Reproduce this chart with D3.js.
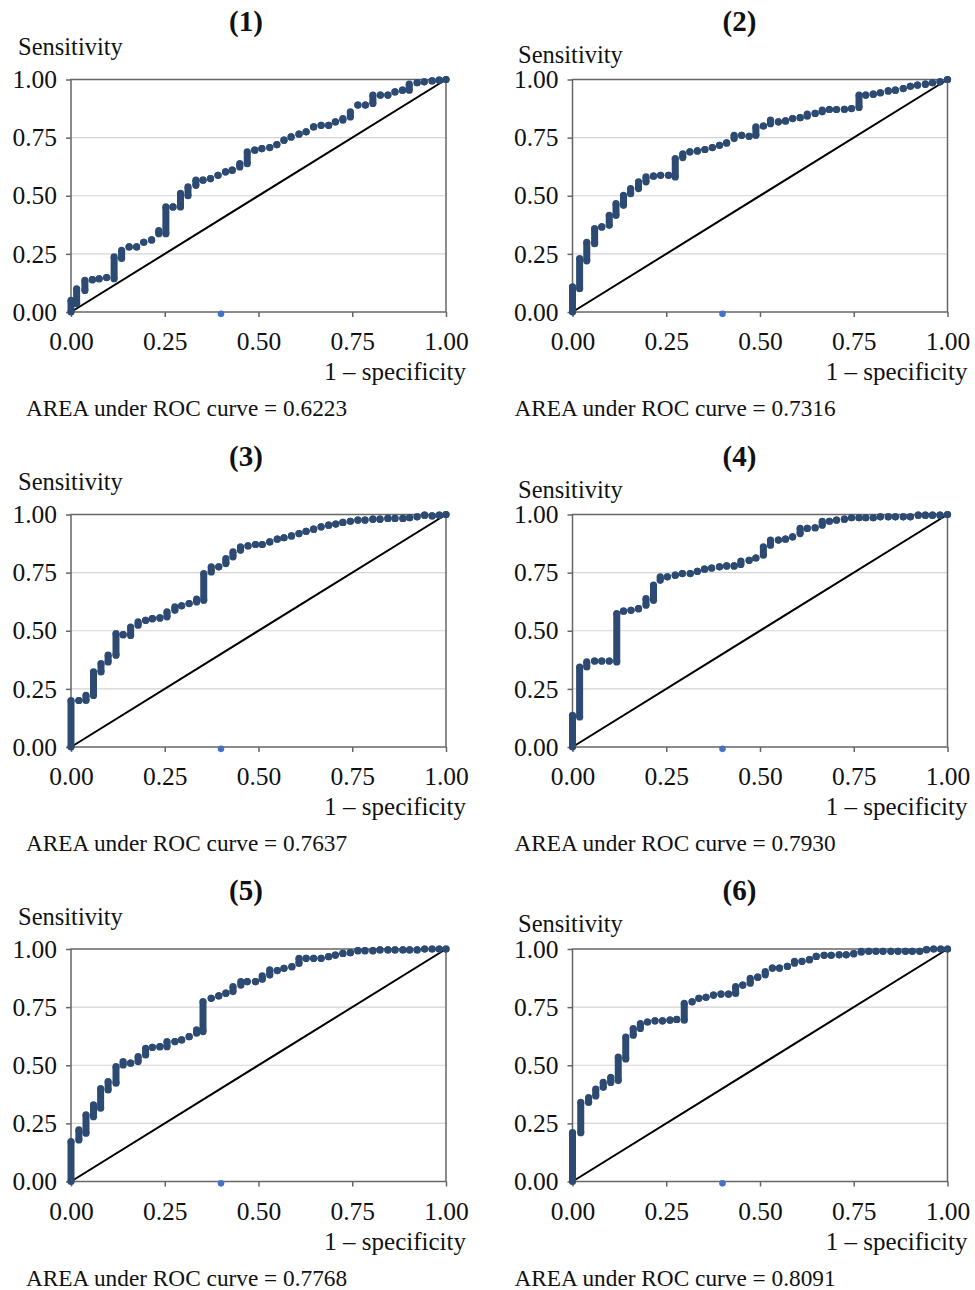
<!DOCTYPE html>
<html>
<head>
<meta charset="utf-8">
<script src="https://cdn.jsdelivr.net/npm/d3@7"></script>
<style>
  body { margin: 0; background: #fff; }
  svg text { font-family: "Liberation Serif", "DejaVu Serif", serif; fill: #111; }
</style>
</head>
<body>
<div id="vis"></div>
<script>
// ROC points: [1 - specificity, sensitivity low, sensitivity high]
// (a vertical run of tied points is stored as one row)
var roc1 = [
  [0,0,0.05],[0.015,0.036,0.10],[0.037,0.093,0.136],[0.057,0.139,0.139],[0.075,0.143,0.143],
  [0.095,0.148,0.148],[0.115,0.143,0.237],[0.135,0.23,0.265],[0.155,0.28,0.28],[0.175,0.28,0.28],
  [0.194,0.30,0.30],[0.215,0.31,0.31],[0.234,0.337,0.35],[0.253,0.337,0.452],[0.272,0.452,0.452],
  [0.292,0.452,0.51],[0.312,0.50,0.538],[0.333,0.545,0.567],[0.352,0.567,0.567],[0.372,0.574,0.574],
  [0.392,0.588,0.588],[0.412,0.603,0.603],[0.43,0.61,0.61],[0.45,0.624,0.638],[0.47,0.638,0.689],
  [0.49,0.696,0.696],[0.509,0.703,0.703],[0.53,0.707,0.707],[0.549,0.72,0.72],[0.568,0.739,0.739],
  [0.587,0.753,0.753],[0.608,0.765,0.765],[0.627,0.775,0.775],[0.647,0.796,0.796],[0.667,0.803,0.803],
  [0.687,0.803,0.803],[0.705,0.818,0.818],[0.725,0.825,0.832],[0.745,0.839,0.861],[0.765,0.89,0.89],
  [0.785,0.89,0.89],[0.805,0.897,0.933],[0.825,0.933,0.933],[0.845,0.933,0.933],[0.864,0.947,0.947],
  [0.884,0.954,0.954],[0.902,0.954,0.98],[0.923,0.986,0.986],[0.942,0.99,0.99],[0.963,0.994,0.994],
  [0.982,0.997,0.997],[1,1,1]
];
var roc2 = [
  [0,0,0.108],[0.019,0.10,0.23],[0.038,0.22,0.30],[0.059,0.294,0.359],[0.078,0.366,0.366],
  [0.098,0.373,0.416],[0.116,0.416,0.466],[0.136,0.459,0.502],[0.155,0.509,0.531],[0.176,0.531,0.56],
  [0.196,0.56,0.581],[0.216,0.584,0.584],[0.235,0.588,0.588],[0.256,0.588,0.588],[0.274,0.581,0.66],
  [0.294,0.664,0.68],[0.313,0.689,0.689],[0.333,0.693,0.693],[0.353,0.699,0.699],[0.373,0.707,0.707],
  [0.392,0.717,0.717],[0.411,0.727,0.727],[0.431,0.746,0.76],[0.451,0.76,0.76],[0.471,0.756,0.756],
  [0.489,0.76,0.796],[0.509,0.80,0.80],[0.528,0.81,0.825],[0.549,0.818,0.818],[0.568,0.822,0.822],
  [0.587,0.832,0.832],[0.607,0.836,0.836],[0.626,0.842,0.851],[0.647,0.854,0.854],[0.666,0.861,0.868],
  [0.685,0.871,0.871],[0.704,0.871,0.871],[0.725,0.872,0.872],[0.744,0.875,0.875],[0.764,0.88,0.933],
  [0.782,0.933,0.933],[0.802,0.937,0.937],[0.821,0.943,0.943],[0.842,0.951,0.951],[0.861,0.954,0.954],
  [0.882,0.961,0.961],[0.901,0.971,0.971],[0.92,0.976,0.976],[0.941,0.98,0.98],[0.96,0.986,0.986],
  [0.98,0.99,0.99],[1,1,1]
];
var roc3 = [
  [0,0,0.20],[0.021,0.20,0.20],[0.04,0.20,0.222],[0.06,0.222,0.323],[0.08,0.323,0.359],
  [0.099,0.366,0.395],[0.12,0.395,0.488],[0.139,0.483,0.483],[0.159,0.48,0.516],[0.179,0.524,0.538],
  [0.199,0.545,0.545],[0.217,0.552,0.552],[0.237,0.555,0.555],[0.256,0.56,0.581],[0.277,0.588,0.603],
  [0.295,0.607,0.607],[0.315,0.617,0.617],[0.335,0.624,0.636],[0.354,0.631,0.746],[0.374,0.753,0.775],
  [0.394,0.775,0.775],[0.413,0.789,0.81],[0.432,0.818,0.839],[0.452,0.846,0.861],[0.472,0.865,0.865],
  [0.492,0.871,0.871],[0.51,0.871,0.871],[0.53,0.882,0.882],[0.55,0.894,0.894],[0.568,0.90,0.90],
  [0.588,0.908,0.908],[0.608,0.918,0.918],[0.627,0.928,0.928],[0.647,0.937,0.937],[0.667,0.947,0.947],
  [0.687,0.954,0.954],[0.706,0.959,0.959],[0.725,0.966,0.966],[0.745,0.971,0.971],[0.765,0.976,0.976],
  [0.784,0.976,0.976],[0.805,0.98,0.98],[0.824,0.98,0.98],[0.845,0.983,0.983],[0.864,0.983,0.983],
  [0.885,0.983,0.983],[0.903,0.986,0.986],[0.923,0.99,0.99],[0.943,0.997,0.997],[0.963,0.994,0.994],
  [0.982,0.997,0.997],[1,1,1]
];
var roc4 = [
  [0,0,0.136],[0.019,0.129,0.344],[0.038,0.344,0.366],[0.059,0.37,0.37],[0.078,0.37,0.37],
  [0.098,0.37,0.37],[0.118,0.366,0.574],[0.136,0.584,0.584],[0.156,0.588,0.588],[0.176,0.595,0.595],
  [0.196,0.61,0.638],[0.216,0.631,0.696],[0.234,0.717,0.732],[0.253,0.732,0.732],[0.274,0.739,0.739],
  [0.293,0.746,0.746],[0.314,0.746,0.746],[0.333,0.756,0.756],[0.352,0.765,0.765],[0.371,0.77,0.77],
  [0.392,0.775,0.775],[0.411,0.779,0.779],[0.431,0.779,0.779],[0.449,0.785,0.80],[0.471,0.803,0.803],
  [0.489,0.813,0.813],[0.509,0.825,0.861],[0.528,0.868,0.89],[0.549,0.89,0.89],[0.568,0.894,0.894],
  [0.587,0.904,0.904],[0.607,0.918,0.94],[0.626,0.94,0.94],[0.647,0.943,0.943],[0.666,0.954,0.971],
  [0.685,0.971,0.971],[0.704,0.976,0.976],[0.725,0.98,0.98],[0.744,0.986,0.986],[0.764,0.986,0.986],
  [0.782,0.986,0.986],[0.802,0.986,0.986],[0.821,0.99,0.99],[0.842,0.99,0.99],[0.861,0.99,0.99],
  [0.882,0.99,0.99],[0.901,0.99,0.99],[0.922,0.997,0.997],[0.941,0.997,0.997],[0.96,0.997,0.997],
  [0.98,0.997,0.997],[1,1,1]
];
var roc5 = [
  [0,0,0.172],[0.021,0.179,0.222],[0.04,0.208,0.287],[0.06,0.279,0.33],[0.079,0.315,0.40],
  [0.099,0.394,0.43],[0.12,0.423,0.494],[0.139,0.501,0.516],[0.159,0.509,0.509],[0.179,0.516,0.537],
  [0.199,0.544,0.573],[0.217,0.577,0.577],[0.237,0.58,0.58],[0.256,0.58,0.602],[0.277,0.602,0.602],
  [0.295,0.609,0.609],[0.315,0.623,0.623],[0.335,0.638,0.652],[0.352,0.645,0.774],[0.374,0.788,0.788],
  [0.394,0.798,0.798],[0.413,0.81,0.81],[0.432,0.817,0.838],[0.453,0.845,0.86],[0.47,0.86,0.86],
  [0.492,0.86,0.86],[0.51,0.87,0.884],[0.53,0.888,0.91],[0.55,0.907,0.907],[0.568,0.917,0.917],
  [0.589,0.924,0.924],[0.608,0.938,0.96],[0.627,0.96,0.96],[0.647,0.96,0.96],[0.667,0.96,0.96],
  [0.687,0.967,0.967],[0.705,0.974,0.974],[0.725,0.981,0.981],[0.745,0.984,0.984],[0.765,0.993,0.993],
  [0.784,0.993,0.993],[0.805,0.993,0.993],[0.824,0.996,0.996],[0.845,0.996,0.996],[0.864,0.996,0.996],
  [0.885,0.996,0.996],[0.903,0.996,0.996],[0.923,0.996,0.996],[0.943,1,1],[0.963,1,1],
  [0.982,1,1],[1,1,1]
];
var roc6 = [
  [0,0,0.21],[0.022,0.21,0.34],[0.043,0.34,0.361],[0.062,0.368,0.397],[0.082,0.405,0.426],
  [0.102,0.426,0.448],[0.122,0.434,0.535],[0.142,0.527,0.621],[0.162,0.629,0.658],[0.181,0.658,0.679],
  [0.20,0.686,0.686],[0.22,0.691,0.691],[0.24,0.691,0.691],[0.26,0.694,0.694],[0.278,0.697,0.697],
  [0.298,0.694,0.766],[0.319,0.773,0.773],[0.337,0.788,0.788],[0.356,0.792,0.792],[0.376,0.802,0.802],
  [0.396,0.806,0.806],[0.416,0.806,0.806],[0.435,0.809,0.838],[0.454,0.845,0.845],[0.474,0.853,0.874],
  [0.494,0.879,0.879],[0.514,0.889,0.903],[0.533,0.918,0.918],[0.552,0.918,0.918],[0.573,0.925,0.925],
  [0.592,0.939,0.947],[0.612,0.947,0.947],[0.632,0.954,0.954],[0.65,0.968,0.968],[0.671,0.973,0.973],
  [0.69,0.973,0.973],[0.711,0.975,0.975],[0.73,0.975,0.975],[0.75,0.98,0.98],[0.77,0.986,0.99],
  [0.79,0.99,0.99],[0.809,0.99,0.99],[0.828,0.99,0.99],[0.849,0.99,0.99],[0.868,0.99,0.99],
  [0.888,0.99,0.99],[0.906,0.99,0.99],[0.926,0.99,0.99],[0.944,0.997,0.997],[0.963,1,1],
  [0.982,1,1],[1,1,1]
];

var curves = [roc1, roc2, roc3, roc4, roc5, roc6];
var titles = ['(1)', '(2)', '(3)', '(4)', '(5)', '(6)'];
var areas = ['0.6223', '0.7316', '0.7637', '0.7930', '0.7768', '0.8091'];
var ticks = [0, 0.25, 0.5, 0.75, 1];
var strayPoint = [0.40, -0.008]; // lone marker sitting on the x axis

var width = 975, height = 1290;
var plotW = 375, plotH = 232.5;
var colLeft = [71, 572.5];
var rowTop = [79.5, 514.5, 949];
// per-column label offsets
var titleDx = [175, 167];
var sensDx = [-53, -54.5], sensDy = [-24.5, -17];
var areaDx = [-45, -58];

var svg = d3.select('#vis').append('svg')
  .attr('width', width)
  .attr('height', height);

var x = d3.scaleLinear().domain([0, 1]).range([0, plotW]);
var y = d3.scaleLinear().domain([0, 1]).range([plotH, 0]);
var fmt = d3.format('.2f');

curves.forEach(function(data, i) {
  var col = i % 2, row = Math.floor(i / 2);
  var g = svg.append('g')
    .attr('transform', 'translate(' + colLeft[col] + ',' + rowTop[row] + ')');

  // title
  g.append('text')
    .attr('x', titleDx[col])
    .attr('y', -49)
    .attr('text-anchor', 'middle')
    .style('font-size', '29px')
    .style('font-weight', 'bold')
    .text(titles[i]);

  // gridlines
  g.selectAll('line.grid').data([0.25, 0.5, 0.75]).enter()
    .append('line')
    .attr('class', 'grid')
    .attr('x1', 0).attr('x2', plotW)
    .attr('y1', function(d) { return y(d); })
    .attr('y2', function(d) { return y(d); })
    .attr('stroke', '#d4d4d4')
    .attr('stroke-width', 1.2);

  // axes
  var ya = g.append('g')
    .call(d3.axisLeft(y).tickValues(ticks).tickFormat(fmt).tickSize(5).tickPadding(9));
  var xa = g.append('g')
    .attr('transform', 'translate(0,' + plotH + ')')
    .call(d3.axisBottom(x).tickValues(ticks).tickFormat(fmt).tickSize(5).tickPadding(15));
  [ya, xa].forEach(function(a) {
    a.select('.domain').remove();
    a.selectAll('line').attr('stroke', '#666').attr('stroke-width', 1.5);
    a.selectAll('text')
      .style('font-family', '"Liberation Serif", serif')
      .style('font-size', '25.5px')
      .attr('fill', '#111');
  });

  // plot border
  g.append('rect')
    .attr('x', 0).attr('y', 0)
    .attr('width', plotW).attr('height', plotH)
    .attr('fill', 'none')
    .attr('stroke', '#666')
    .attr('stroke-width', 1.5);

  // reference diagonal
  g.append('line')
    .attr('x1', x(0)).attr('y1', y(0))
    .attr('x2', x(1)).attr('y2', y(1))
    .attr('stroke', '#000')
    .attr('stroke-width', 2);

  // ROC points: vertical runs + dots
  var blue = '#2c4a72';
  g.selectAll('line.run').data(data).enter()
    .append('line')
    .attr('class', 'run')
    .attr('x1', function(d) { return x(d[0]); })
    .attr('x2', function(d) { return x(d[0]); })
    .attr('y1', function(d) { return y(d[1]); })
    .attr('y2', function(d) { return y(d[2]); })
    .attr('stroke', blue)
    .attr('stroke-width', 7);
  g.selectAll('circle.lo').data(data).enter()
    .append('circle')
    .attr('cx', function(d) { return x(d[0]); })
    .attr('cy', function(d) { return y(d[1]); })
    .attr('r', 3.6)
    .attr('fill', blue);
  g.selectAll('circle.hi').data(data).enter()
    .append('circle')
    .attr('cx', function(d) { return x(d[0]); })
    .attr('cy', function(d) { return y(d[2]); })
    .attr('r', 3.6)
    .attr('fill', blue);

  g.append('circle')
    .attr('cx', x(strayPoint[0]))
    .attr('cy', y(strayPoint[1]))
    .attr('r', 3.3)
    .attr('fill', '#4472c4');

  // axis labels
  g.append('text')
    .attr('x', sensDx[col])
    .attr('y', sensDy[col])
    .style('font-size', '24.5px')
    .text('Sensitivity');
  g.append('text')
    .attr('x', plotW + 20)
    .attr('y', plotH + 68)
    .attr('text-anchor', 'end')
    .style('font-size', '25px')
    .text('1 \u2013 specificity');

  g.append('text')
    .attr('x', areaDx[col])
    .attr('y', plotH + 104)
    .style('font-size', '23.3px')
    .text('AREA under ROC curve = ' + areas[i]);
});
</script>
</body>
</html>
